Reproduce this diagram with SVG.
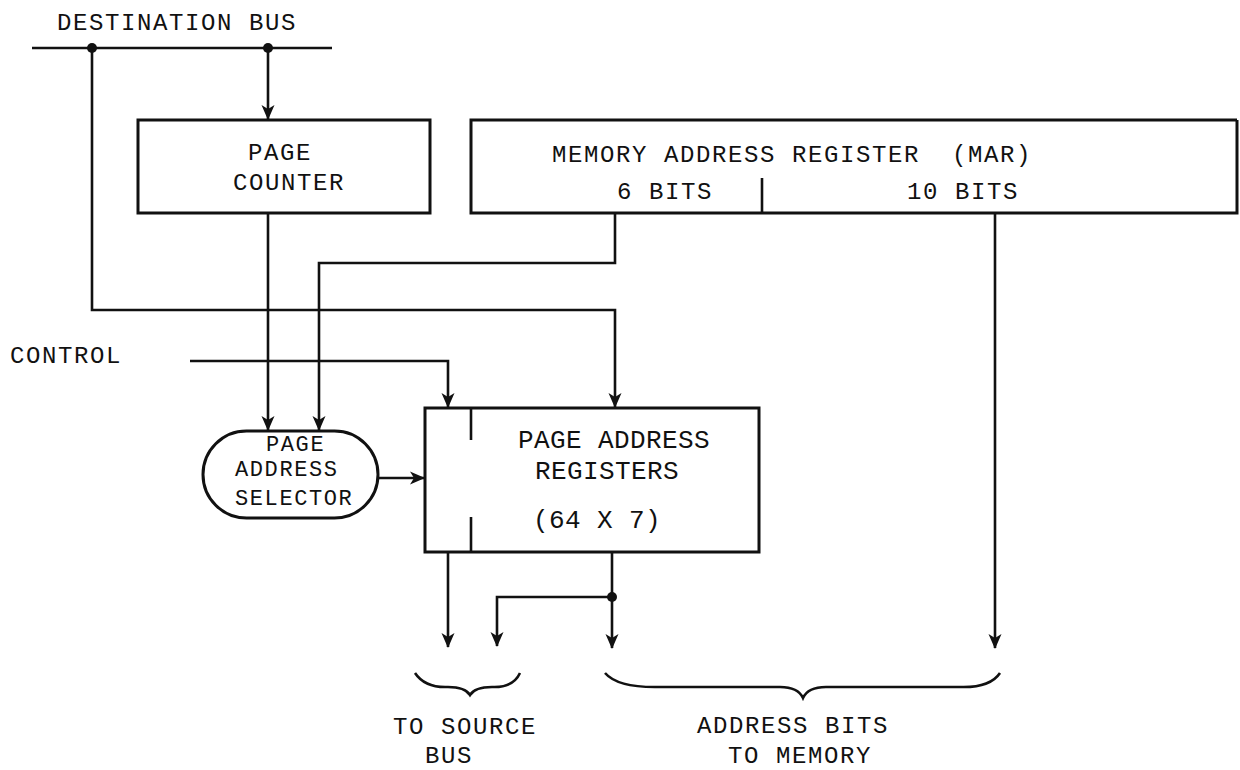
<svg xmlns="http://www.w3.org/2000/svg" width="1240" height="770" viewBox="0 0 1240 770">
<style>
.t{font-family:"Liberation Mono","DejaVu Sans Mono",monospace;font-size:24px;letter-spacing:1.6px;fill:#111}
.ts{font-family:"Liberation Mono","DejaVu Sans Mono",monospace;font-size:22px;letter-spacing:1.6px;fill:#111}
.tl{font-family:"Liberation Mono","DejaVu Sans Mono",monospace;font-size:26px;letter-spacing:0.4px;fill:#111}
.box{fill:none;stroke:#111;stroke-width:3}
.ln{fill:none;stroke:#111;stroke-width:2.6;stroke-linejoin:miter}
.ar{fill:none;stroke:#111;stroke-width:2.6;marker-end:url(#arr)}
.dot{fill:#111}
</style>
<defs>
<marker id="arr" viewBox="0 -7 15 14" refX="14" refY="0" markerWidth="15" markerHeight="14" markerUnits="userSpaceOnUse" orient="auto">
<path d="M0,-6.5 L15,0 L0,6.5 L4,0 Z" fill="#111"/>
</marker>
</defs>
<rect width="1240" height="770" fill="#fff"/>

<g id="destination-bus">
<text class="t" x="57" y="30">DESTINATION BUS</text>
<line class="ln" x1="32" y1="48" x2="332" y2="48"/>
</g>

<g id="page-counter">
<rect class="box" x="138" y="120" width="292" height="93"/>
<text class="t" x="248" y="160">PAGE</text>
<text class="t" x="233" y="190">COUNTER</text>
</g>

<g id="mar">
<polyline class="box" points="1237,120 471,120 471,213 1237,213 1237,120"/>
<text class="t" x="552" y="162" xml:space="preserve">MEMORY ADDRESS REGISTER  (MAR)</text>
<text class="t" x="617" y="199">6 BITS</text>
<text class="t" x="907" y="199">10 BITS</text>
<line class="ln" x1="762" y1="178" x2="762" y2="213"/>
</g>

<g id="control">
<text class="t" x="10" y="363">CONTROL</text>
</g>

<g id="page-address-selector">
<rect class="box" x="203" y="431" width="175" height="87" rx="43.5" ry="43.5"/>
<text class="ts" x="266" y="451">PAGE</text>
<text class="ts" x="235" y="476">ADDRESS</text>
<text class="ts" x="235" y="505">SELECTOR</text>
</g>

<g id="page-address-registers">
<rect class="box" x="425" y="408" width="334" height="144"/>
<line class="ln" x1="471" y1="408" x2="471" y2="440"/>
<line class="ln" x1="471" y1="517" x2="471" y2="552"/>
<text class="tl" x="518" y="448">PAGE ADDRESS</text>
<text class="tl" x="535" y="479">REGISTERS</text>
<text class="tl" x="533" y="528">(64 X 7)</text>
</g>

<g id="labels">
<path class="ln" d="M415,673 Q425,688 448,687 Q465,687 470,695 Q475,687 492,687 Q513,688 520,673"/>
<path class="ln" d="M605,673 Q618,688 660,687 L780,687 Q798,687 803,698 Q808,687 826,687 L960,687 Q990,688 1000,673"/>
<text class="t" x="393" y="734">TO SOURCE</text>
<text class="t" x="425" y="763">BUS</text>
<text class="t" x="697" y="733">ADDRESS BITS</text>
<text class="t" x="728" y="763">TO MEMORY</text>
</g>

<g id="connectors">
<line class="ar" x1="268" y1="48" x2="268" y2="119"/>
<polyline class="ar" points="92,48 92,310 615,310 615,407"/>
<line class="ar" x1="268" y1="213" x2="268" y2="430"/>
<polyline class="ar" points="615,213 615,263 319,263 319,430"/>
<polyline class="ar" points="190,361 448,361 448,407"/>
<line class="ar" x1="378" y1="478" x2="424" y2="478"/>
<line class="ar" x1="995" y1="213" x2="995" y2="648"/>
<line class="ar" x1="448" y1="552" x2="448" y2="647"/>
<line class="ar" x1="612" y1="552" x2="612" y2="648"/>
<polyline class="ar" points="612,597 497,597 497,646"/>
<circle class="dot" cx="92" cy="48" r="5"/>
<circle class="dot" cx="268" cy="48" r="5"/>
<circle class="dot" cx="612" cy="597" r="5"/>
</g>
</svg>
